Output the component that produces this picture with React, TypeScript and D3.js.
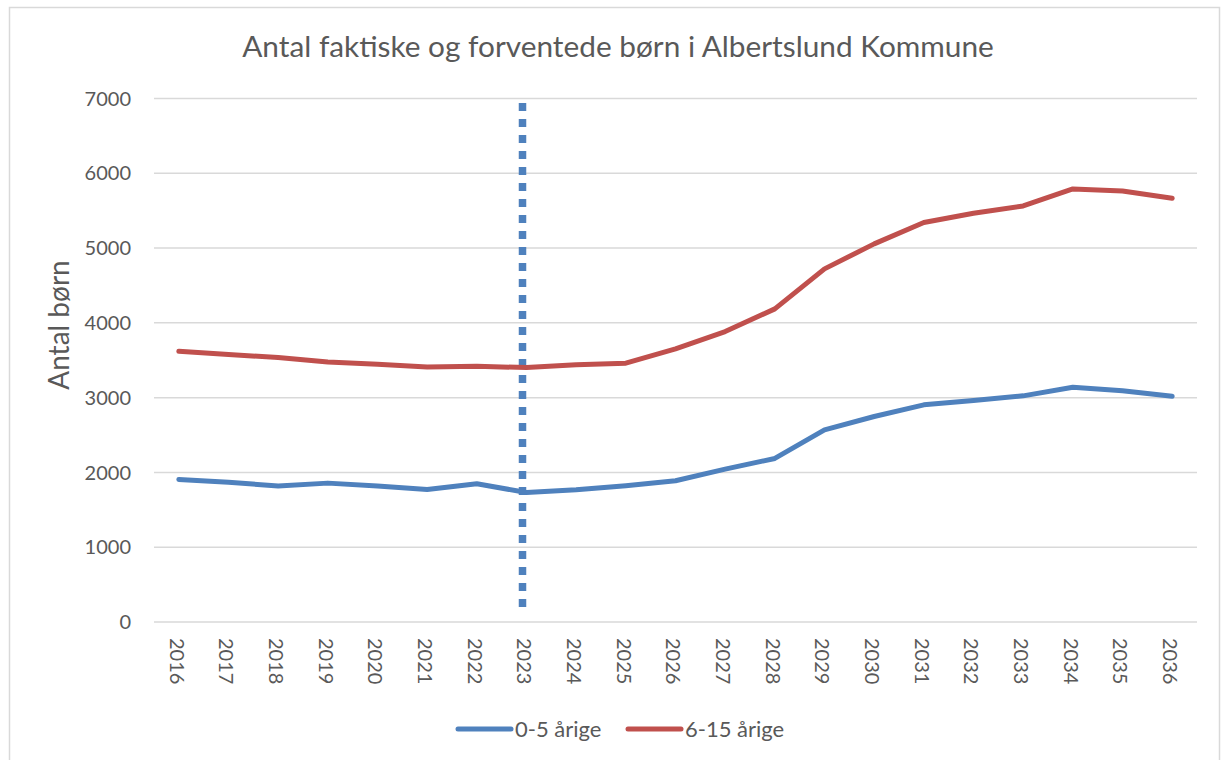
import React from "react";
import * as d3 from "d3";

const years = [2016, 2017, 2018, 2019, 2020, 2021, 2022, 2023, 2024, 2025, 2026, 2027, 2028, 2029, 2030, 2031, 2032, 2033, 2034, 2035, 2036];
const children0to5 = [1906, 1870, 1817, 1857, 1818, 1772, 1848, 1732, 1768, 1822, 1889, 2045, 2187, 2570, 2748, 2904, 2962, 3024, 3140, 3091, 3020];
const children6to15 = [3620, 3576, 3536, 3477, 3446, 3410, 3420, 3402, 3440, 3461, 3653, 3884, 4187, 4722, 5056, 5341, 5465, 5563, 5791, 5764, 5666];
const yTicks = [0, 1000, 2000, 3000, 4000, 5000, 6000, 7000];
const seriesNames = ["0-5 årige", "6-15 årige"];
const markerYear = 2023;
const markerRange = [200, 6940];

const W = 1222;
const H = 760;
const FONT = "Lato, 'Open Sans', sans-serif";
const TEXT = "#595959";
const GRID = "#D9D9D9";
const BLUE = "#4F81BD";
const RED = "#C0504D";

export default function App() {
  const x = d3.scaleBand<number>().domain(years).range([154, 1197]);
  const y = d3.scaleLinear().domain([0, 7000]).range([622, 98.5]);
  const cx = (yr: number) => (x(yr) as number) + x.bandwidth() / 2;

  const line = d3
    .line<number>()
    .x((_, i) => cx(years[i]))
    .y((v) => y(v));

  const series = [
    { name: seriesNames[0], values: children0to5, color: BLUE },
    { name: seriesNames[1], values: children6to15, color: RED },
  ];

  const mx = cx(markerYear) - 4;

  return (
    <svg
      width={W}
      height={H}
      style={{ position: "absolute", left: 0, top: 0, background: "#fff" }}
      fontFamily={FONT}
    >
      <rect x={0} y={0} width={W} height={H} fill="#fff" />
      <rect x={9.5} y={7.5} width={1210} height={800} fill="none" stroke={GRID} strokeWidth={1.5} />

      <text x={618} y={57} textAnchor="middle" fontSize={29.8} fill={TEXT}>
        Antal faktiske og forventede børn i Albertslund Kommune
      </text>

      {yTicks.map((t) => (
        <g key={t}>
          <line x1={154} x2={1197} y1={y(t)} y2={y(t)} stroke={GRID} strokeWidth={1.5} />
          <text x={131} y={y(t)} dy="0.36em" textAnchor="end" fontSize={20} fill={TEXT}>
            {t}
          </text>
        </g>
      ))}

      <text
        transform={`translate(59,325) rotate(-90)`}
        textAnchor="middle"
        dy="0.36em"
        fontSize={28}
        fill={TEXT}
      >
        Antal børn
      </text>

      {years.map((yr) => (
        <text
          key={yr}
          transform={`translate(${cx(yr) - 2},638) rotate(90)`}
          dy="0.36em"
          textAnchor="start"
          fontSize={20}
          fill={TEXT}
        >
          {yr}
        </text>
      ))}

      <line
        x1={mx}
        x2={mx}
        y1={y(markerRange[1])}
        y2={y(markerRange[0])}
        stroke={BLUE}
        strokeWidth={7.5}
        strokeDasharray="8 8"
      />

      {series.map((s) => (
        <path
          key={s.name}
          d={line(s.values) as string}
          fill="none"
          stroke={s.color}
          strokeWidth={5}
          strokeLinecap="round"
          strokeLinejoin="round"
        />
      ))}

      {series.map((s, i) => {
        const lx = i === 0 ? 458 : 628;
        return (
          <g key={s.name}>
            <line x1={lx} x2={lx + 53} y1={729} y2={729} stroke={s.color} strokeWidth={5} strokeLinecap="round" />
            <text x={lx + 57} y={729} dy="0.36em" fontSize={22} fill={TEXT}>
              {s.name}
            </text>
          </g>
        );
      })}
    </svg>
  );
}
